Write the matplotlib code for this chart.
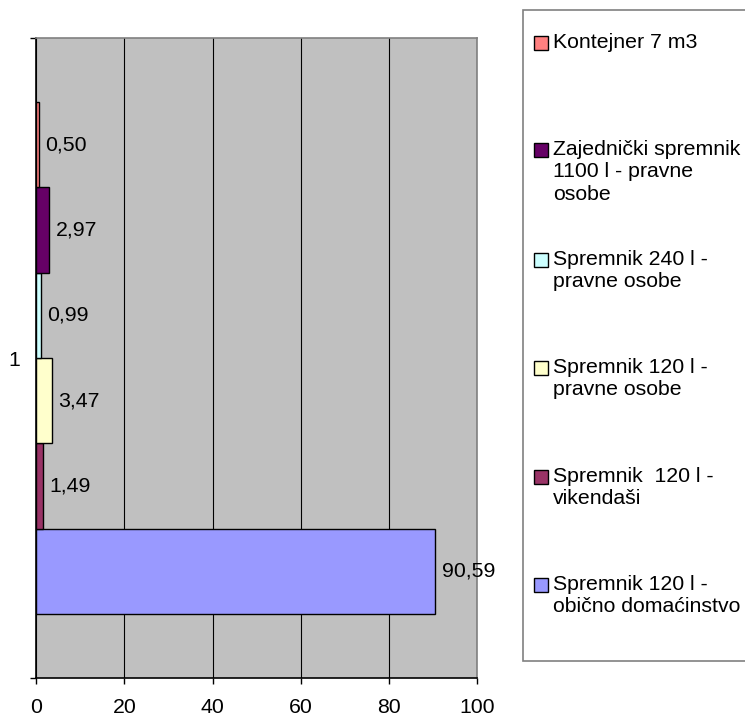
import matplotlib.pyplot as plt
from matplotlib.patches import Rectangle

plt.rcParams['font.family'] = ['Liberation Sans', 'DejaVu Sans']

# series in legend order (top to bottom)
labels = ['Kontejner 7 m3',
          'Zajednički spremnik\n1100 l - pravne\nosobe',
          'Spremnik 240 l -\npravne osobe',
          'Spremnik 120 l -\npravne osobe',
          'Spremnik  120 l -\nvikendaši',
          'Spremnik 120 l -\nobično domaćinstvo']
values = [0.50, 2.97, 0.99, 3.47, 1.49, 90.59]
colors = ['#FF8080', '#660066', '#CCFFFF', '#FFFFCC', '#993366', '#9999FF']
category = '1'
xticks = [0, 20, 40, 60, 80, 100]

fs = 15.3
W, H = 745, 719
fig = plt.figure(figsize=(W / 100, H / 100), dpi=100)
ax = fig.add_axes([36.3 / W, 1 - 678 / H, (476.8 - 36.3) / W, (678 - 38) / H])
ax.set_facecolor('#C0C0C0')

n = len(values)
bh = 0.8 / n
for k in range(n):
    i = n - 1 - k  # bottom bar is last series
    yc = 0.6 + (k + 0.5) * bh
    ax.barh(yc, values[i], height=bh, color=colors[i], edgecolor='black', linewidth=1.0, zorder=3)
    ax.annotate('{:.2f}'.format(values[i]).replace('.', ','), (values[i], yc),
                xytext=(5, 0), textcoords='offset points', va='center', ha='left',
                fontsize=fs, zorder=4)

ax.set_xlim(0, 100)
ax.set_ylim(0.5, 1.5)
ax.set_xticks(xticks)
ax.set_xticklabels([str(t) for t in xticks], fontsize=fs)
ax.tick_params(axis='x', direction='out', length=4.5, width=1, pad=10)
ax.set_yticks([0.5, 1.5])
ax.set_yticklabels(['', ''])
ax.tick_params(axis='y', which='major', direction='out', length=4.5, width=1)
ax.set_yticks([1.0], minor=True)
ax.set_yticklabels([category], minor=True, fontsize=fs)
ax.tick_params(axis='y', which='minor', length=0, pad=12)
ax.grid(axis='x', color='black', linewidth=0.8, zorder=1)
ax.set_axisbelow(True)
for s in ['top', 'right']:
    ax.spines[s].set_color('#808080')
    ax.spines[s].set_linewidth(1.2)
for s in ['left', 'bottom']:
    ax.spines[s].set_color('black')
    ax.spines[s].set_linewidth(1.2)

# legend box drawn in figure pixels
def fx(px):
    return px / W

def fy(py):
    return 1 - py / H

fig.patches.append(Rectangle((fx(523), fy(661)), fx(760) - fx(523), fy(10) - fy(661),
                             transform=fig.transFigure, facecolor='white',
                             edgecolor='#808080', linewidth=1.2, clip_on=False))
entry_y = [43, 150, 260, 368, 477, 585]
for lab, col, yy in zip(labels, colors, entry_y):
    fig.patches.append(Rectangle((fx(534), fy(yy + 7)), fx(548) - fx(534), fy(yy - 7) - fy(yy + 7),
                                 transform=fig.transFigure, facecolor=col,
                                 edgecolor='black', linewidth=1.0))
    fig.text(fx(553), fy(yy - 10), lab, fontsize=fs, ha='left', va='top', linespacing=1.22)

fig.savefig('out.png', dpi=100)
